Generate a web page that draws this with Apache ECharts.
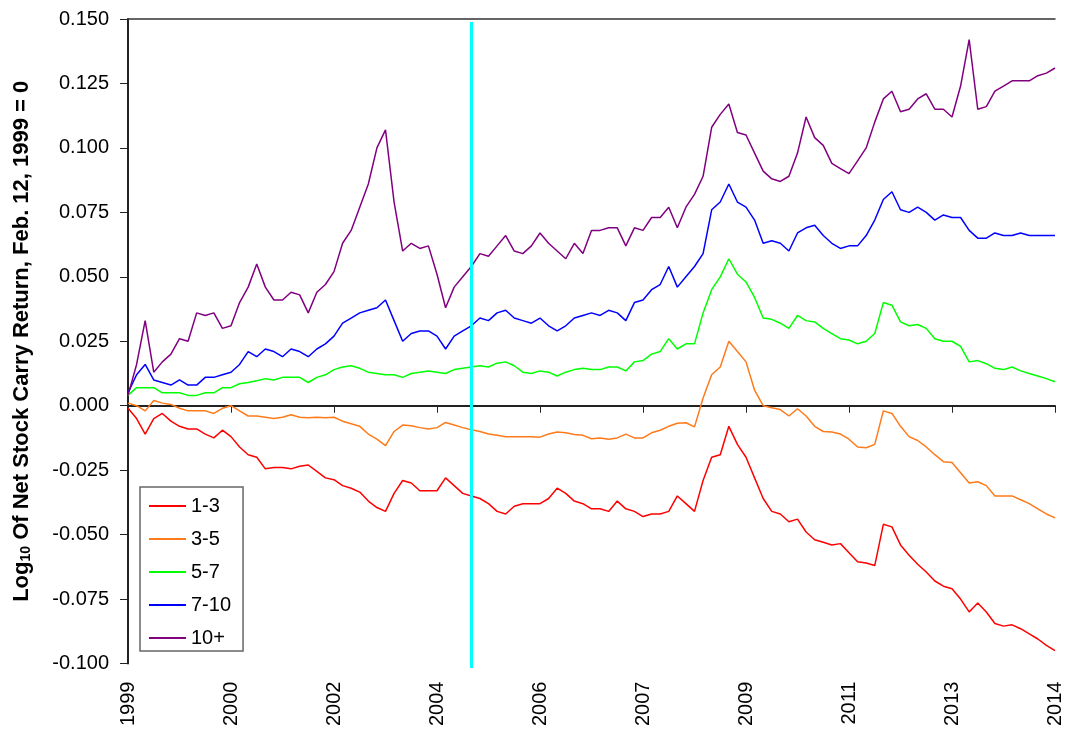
<!DOCTYPE html>
<html>
<head>
<meta charset="utf-8">
<script src="https://cdn.jsdelivr.net/npm/echarts@6/dist/echarts.min.js"></script>
<style>
    html, body { margin: 0; padding: 0; background: #fff; }
    #chart { width: 1065px; height: 729px; }
</style>
</head>
<body>
<div id="chart"></div>
<script>
// x tick labels (9 equal intervals, 12 samples each)
var xTickLabels = ['1999', '2000', '2002', '2004', '2006', '2007', '2009', '2011', '2013', '2014'];
var samplesPerTick = 12;
var markerSample = 40;

var s13 = [-0.001,-0.005,-0.011,-0.005,-0.003,-0.006,-0.008,-0.009,-0.009,-0.011,-0.0125,-0.0095,-0.012,-0.016,-0.019,-0.020,-0.0245,-0.024,-0.024,-0.0245,-0.0235,-0.023,-0.0255,-0.028,-0.0287,-0.031,-0.032,-0.0335,-0.037,-0.0395,-0.041,-0.034,-0.029,-0.030,-0.033,-0.033,-0.033,-0.028,-0.031,-0.034,-0.035,-0.036,-0.038,-0.041,-0.042,-0.039,-0.038,-0.038,-0.038,-0.036,-0.032,-0.034,-0.037,-0.038,-0.040,-0.040,-0.041,-0.037,-0.040,-0.041,-0.043,-0.042,-0.042,-0.041,-0.035,-0.038,-0.041,-0.029,-0.020,-0.019,-0.008,-0.015,-0.020,-0.028,-0.036,-0.041,-0.042,-0.045,-0.044,-0.049,-0.052,-0.053,-0.054,-0.0535,-0.057,-0.0605,-0.061,-0.062,-0.046,-0.047,-0.054,-0.058,-0.0615,-0.0645,-0.068,-0.070,-0.071,-0.075,-0.080,-0.0765,-0.080,-0.0845,-0.0855,-0.085,-0.0865,-0.0885,-0.0905,-0.093,-0.095];

var s35 = [0.001,0.000,-0.002,0.002,0.001,0.0005,-0.001,-0.002,-0.002,-0.002,-0.003,-0.001,0.000,-0.002,-0.004,-0.004,-0.0045,-0.005,-0.0045,-0.0035,-0.0045,-0.0047,-0.0045,-0.0047,-0.0045,-0.006,-0.007,-0.008,-0.011,-0.013,-0.0155,-0.010,-0.0075,-0.0078,-0.0085,-0.009,-0.0085,-0.0065,-0.0075,-0.0085,-0.0093,-0.010,-0.011,-0.0115,-0.012,-0.012,-0.012,-0.012,-0.0122,-0.011,-0.0102,-0.0105,-0.0112,-0.0115,-0.0128,-0.0125,-0.013,-0.0125,-0.011,-0.0125,-0.0125,-0.0105,-0.0095,-0.008,-0.0068,-0.0066,-0.0082,0.003,0.012,0.015,0.025,0.021,0.017,0.006,0.000,-0.0008,-0.0015,-0.004,-0.0012,-0.004,-0.008,-0.010,-0.0102,-0.011,-0.013,-0.016,-0.0163,-0.015,-0.002,-0.003,-0.008,-0.012,-0.0135,-0.016,-0.019,-0.0217,-0.022,-0.026,-0.030,-0.0295,-0.031,-0.035,-0.035,-0.035,-0.0365,-0.038,-0.040,-0.042,-0.0435];

var s57 = [0.004,0.007,0.007,0.007,0.005,0.005,0.005,0.004,0.004,0.005,0.005,0.007,0.007,0.0085,0.009,0.0097,0.0105,0.010,0.011,0.011,0.011,0.009,0.011,0.012,0.014,0.015,0.0155,0.0145,0.013,0.0125,0.012,0.012,0.011,0.0125,0.013,0.0135,0.013,0.0125,0.014,0.0145,0.015,0.0155,0.015,0.0165,0.017,0.0155,0.013,0.0125,0.0135,0.013,0.0115,0.013,0.014,0.0145,0.014,0.014,0.015,0.015,0.0135,0.017,0.0175,0.020,0.021,0.026,0.022,0.024,0.024,0.036,0.045,0.050,0.057,0.051,0.048,0.042,0.034,0.0335,0.032,0.030,0.035,0.033,0.0325,0.030,0.028,0.026,0.0255,0.024,0.025,0.028,0.040,0.039,0.0325,0.031,0.0315,0.030,0.026,0.025,0.025,0.023,0.017,0.0175,0.0163,0.0145,0.014,0.015,0.0135,0.0125,0.0115,0.0105,0.0093];

var s710 = [0.005,0.012,0.016,0.010,0.009,0.008,0.010,0.008,0.008,0.011,0.011,0.012,0.013,0.016,0.021,0.019,0.022,0.021,0.019,0.022,0.021,0.019,0.022,0.024,0.027,0.032,0.034,0.036,0.037,0.038,0.041,0.033,0.025,0.028,0.029,0.029,0.027,0.022,0.027,0.029,0.031,0.034,0.033,0.036,0.037,0.034,0.033,0.032,0.034,0.031,0.029,0.031,0.034,0.035,0.036,0.035,0.037,0.036,0.033,0.040,0.041,0.045,0.047,0.054,0.046,0.050,0.054,0.059,0.076,0.079,0.086,0.079,0.077,0.072,0.063,0.064,0.063,0.060,0.067,0.069,0.070,0.066,0.063,0.061,0.062,0.062,0.066,0.072,0.080,0.083,0.076,0.075,0.077,0.075,0.072,0.074,0.073,0.073,0.068,0.065,0.065,0.067,0.066,0.066,0.067,0.066,0.066,0.066,0.066];

var s10p = [0.004,0.016,0.033,0.013,0.017,0.020,0.026,0.025,0.036,0.035,0.036,0.030,0.031,0.040,0.046,0.055,0.046,0.041,0.041,0.044,0.043,0.036,0.044,0.047,0.052,0.063,0.068,0.077,0.086,0.100,0.107,0.079,0.060,0.063,0.061,0.062,0.051,0.038,0.046,0.050,0.054,0.059,0.058,0.062,0.066,0.060,0.059,0.062,0.067,0.063,0.060,0.057,0.063,0.059,0.068,0.068,0.069,0.069,0.062,0.069,0.068,0.073,0.073,0.077,0.069,0.077,0.082,0.089,0.108,0.113,0.117,0.106,0.105,0.098,0.091,0.088,0.087,0.089,0.098,0.112,0.104,0.101,0.094,0.092,0.090,0.095,0.100,0.110,0.119,0.122,0.114,0.115,0.119,0.121,0.115,0.115,0.112,0.124,0.142,0.115,0.116,0.122,0.124,0.126,0.126,0.126,0.128,0.129,0.131];

var seriesNames = ['1-3', '3-5', '5-7', '7-10', '10+'];
var seriesValues = [s13, s35, s57, s710, s10p];
var seriesColors = ['#FF0000', '#FF7A1A', '#00FF00', '#0000FF', '#800080'];

var fontFamily = '"Liberation Sans", Arial, sans-serif';

function toPoints(arr) {
    return arr.map(function (v, i) { return [i, v]; });
}

var series = seriesNames.map(function (name, idx) {
    var s = {
        name: name,
        type: 'line',
        symbol: 'none',
        showSymbol: false,
        animation: false,
        lineStyle: { width: 1.5, color: seriesColors[idx] },
        itemStyle: { color: seriesColors[idx] },
        data: toPoints(seriesValues[idx])
    };
    if (idx === seriesNames.length - 1) {
        s.markLine = {
            silent: true,
            symbol: 'none',
            label: { show: false },
            lineStyle: { color: '#00FFFF', width: 3, type: 'solid' },
            data: [[{ xAxis: markerSample, y: 22 }, { xAxis: markerSample, y: 668 }]]
        };
    }
    return s;
});

option = {
    backgroundColor: '#FFFFFF',
    animation: false,
    textStyle: { fontFamily: fontFamily },
    grid: {
        left: 128,
        right: 3,
        top: 19,
        bottom: 65
    },
    legend: {
        orient: 'vertical',
        left: 140,
        top: 487,
        padding: [9, 12, 3, 8],
        itemWidth: 37,
        itemHeight: 14,
        itemGap: 13,
        borderColor: '#666666',
        borderWidth: 1.5,
        backgroundColor: '#FFFFFF',
        itemStyle: { opacity: 0 },
        data: seriesNames,
        textStyle: {
            fontSize: 20,
            color: '#000000',
            fontFamily: fontFamily
        }
    },
    xAxis: [{
        type: 'value',
        min: 0,
        max: (xTickLabels.length - 1) * samplesPerTick,
        interval: samplesPerTick,
        axisLine: { lineStyle: { color: '#222222', width: 2 } },
        axisTick: { show: true, length: 7, lineStyle: { color: '#222222', width: 1 } },
        splitLine: { show: false },
        axisLabel: {
            rotate: 90,
            margin: 18,
            fontSize: 20,
            color: '#000000',
            fontFamily: fontFamily,
            formatter: function (v) {
                return xTickLabels[Math.round(v / samplesPerTick)];
            }
        }
    }, {
        type: 'value',
        position: 'top',
        min: 0,
        max: (xTickLabels.length - 1) * samplesPerTick,
        axisLine: { show: true, lineStyle: { color: '#333333', width: 1.5 } },
        axisTick: { show: false },
        axisLabel: { show: false },
        splitLine: { show: false }
    }],
    yAxis: [{
        type: 'value',
        min: -0.1,
        max: 0.15,
        interval: 0.025,
        name: '{a|Log}{b|10}{a| Of Net Stock Carry Return, Feb. 12, 1999 = 0}',
        nameLocation: 'middle',
        nameRotate: 90,
        nameGap: 95,
        nameTextStyle: {
            rich: {
                a: { fontSize: 22, fontWeight: 'bold', color: '#000000', fontFamily: fontFamily },
                b: { fontSize: 14, fontWeight: 'bold', color: '#000000', fontFamily: fontFamily, verticalAlign: 'bottom', padding: [7, 0, 0, 0] }
            }
        },
        axisLine: { show: true, lineStyle: { color: '#222222', width: 2 } },
        axisTick: { show: true, length: 8, lineStyle: { color: '#222222', width: 1 } },
        splitLine: { show: false },
        axisLabel: {
            margin: 19,
            fontSize: 20,
            color: '#000000',
            fontFamily: fontFamily,
            formatter: function (v) {
                return v.toFixed(3);
            }
        }
    }],
    series: series
};

var myChart = echarts.init(document.getElementById('chart'));
myChart.setOption(option);
</script>
</body>
</html>
